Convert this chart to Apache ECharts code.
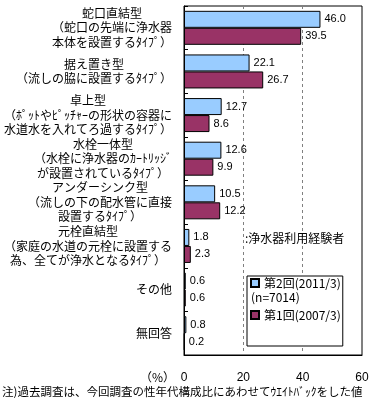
<!DOCTYPE html>
<html><head><meta charset="utf-8">
<script src="https://cdn.jsdelivr.net/npm/echarts@6/dist/echarts.min.js"></script>
<style>html,body{margin:0;padding:0;background:#fff}#c{width:379px;height:402px}</style>
</head><body><div id="c"></div>
<script>
const categories = [
  ['蛇口直結型','（蛇口の先端に浄水器','本体を設置するﾀｲﾌﾟ）'],
  ['据え置き型','（流しの脇に設置するﾀｲﾌﾟ）'],
  ['卓上型','（ﾎﾟｯﾄやﾋﾟｯﾁｬｰの形状の容器に','水道水を入れてろ過するﾀｲﾌﾟ）'],
  ['水栓一体型','（水栓に浄水器のｶｰﾄﾘｯｼﾞ','が設置されているﾀｲﾌﾟ）'],
  ['アンダーシンク型','（流しの下の配水管に直接','設置するﾀｲﾌﾟ）'],
  ['元栓直結型','（家庭の水道の元栓に設置する','為、全てが浄水となるﾀｲﾌﾟ）'],
  ['その他'],
  ['無回答']
];
const seriesNames = ['第2回(2011/3)', '第1回(2007/3)'];
const values2011 = [46.0, 22.1, 12.7, 12.6, 10.5, 1.8, 0.6, 0.8];
const values2007 = [39.5, 26.7, 8.6, 9.9, 12.2, 2.3, 0.6, 0.2];
const xTicks = [0, 20, 40, 60];
const sampleNote = '(n=7014)';
const subjectNote = ':浄水器利用経験者';
const unitLabel = '（%）';
const footnote = '注)過去調査は、今回調査の性年代構成比にあわせてｳｴｲﾄﾊﾞｯｸをした値';

const JP = "'Noto Sans CJK JP', sans-serif";
const NUM = "'Liberation Sans', 'Noto Sans CJK JP', sans-serif";
const chart = echarts.init(document.getElementById('c'), null, {renderer: 'canvas'});
const catKeys = categories.map(l => l.join('\n'));

const barLabel = {
  show: true, position: 'right', distance: 4, color: '#000',
  fontSize: 11, fontFamily: NUM,
  formatter: p => p.value.toFixed(1)
};

chart.setOption({
  animation: false,
  backgroundColor: '#fff',
  grid: {left: 184, right: 17, top: 6, bottom: 47, show: true, borderColor: '#000', borderWidth: 1, backgroundColor: 'transparent'},
  xAxis: {
    type: 'value', min: xTicks[0], max: xTicks[xTicks.length - 1], interval: xTicks[1] - xTicks[0],
    axisLine: {show: true, lineStyle: {color: '#000'}},
    axisTick: {show: false},
    axisLabel: {margin: 17, color: '#000', fontSize: 12, fontFamily: NUM},
    splitLine: {show: true, lineStyle: {color: '#808080', type: [3, 3], width: 1}}
  },
  yAxis: {
    type: 'category', inverse: true, data: catKeys,
    axisLine: {show: true, lineStyle: {color: '#000', width: 1}},
    axisTick: {show: true, inside: true, length: 4, lineStyle: {color: '#000'}},
    axisLabel: {
      margin: 12, color: '#000', fontSize: 12, fontFamily: JP,
      formatter: v => v.split('\n').map(s => '{c|' + s + '}').join('\n'),
      rich: {c: {align: 'center', fontSize: 12, fontFamily: JP, lineHeight: 14.5, color: '#000'}}
    }
  },
  legend: {
    data: seriesNames, orient: 'vertical', left: 247, top: 276,
    backgroundColor: '#fff', borderColor: '#000', borderWidth: 1,
    padding: [0, 2, 24, 3], itemGap: 18, itemWidth: 8, itemHeight: 8, icon: 'rect',
    textStyle: {color: '#000', fontSize: 12, fontFamily: JP, lineHeight: 14}
  },
  series: [
    {name: seriesNames[0], type: 'bar', data: values2011, barWidth: 17, barGap: '0%',
     itemStyle: {color: '#99CCFF', borderColor: '#000', borderWidth: 1}, label: barLabel},
    {name: seriesNames[1], type: 'bar', data: values2007, barWidth: 17, barGap: '0%',
     itemStyle: {color: '#993366', borderColor: '#000', borderWidth: 1}, label: barLabel}
  ],
  graphic: [
    {type: 'text', z: 100, left: 251, top: 291, style: {text: sampleNote, fontSize: 12, fontFamily: JP, fill: '#000'}},
    {type: 'text', z: 100, left: 245, top: 232, style: {text: subjectNote, fontSize: 12, fontFamily: JP, fill: '#000', fontWeight: 'normal'}},
    {type: 'text', z: 100, left: 140, top: 371, style: {text: unitLabel, fontSize: 12, fontFamily: JP, fill: '#000'}},
    {type: 'text', z: 100, left: 2, top: 386, style: {text: footnote, fontSize: 11.5, fontFamily: JP, fill: '#000'}}
  ]
});
</script></body></html>
